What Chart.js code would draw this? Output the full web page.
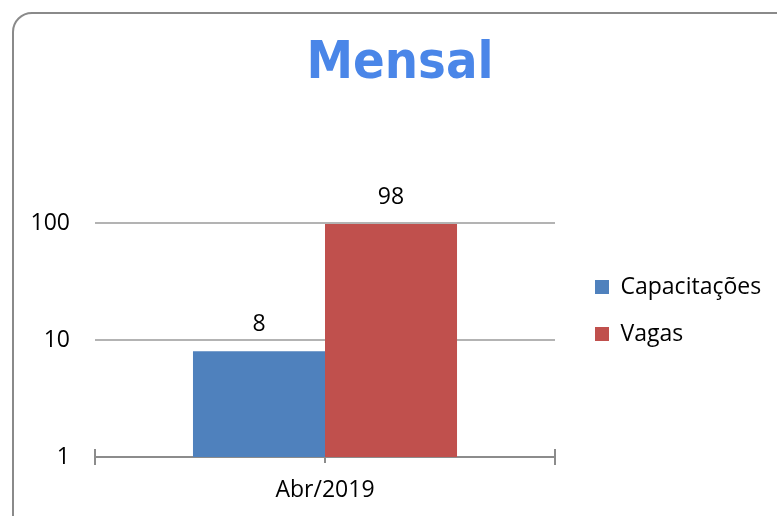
<!DOCTYPE html>
<html>
<head>
<meta charset="utf-8">
<script src="https://cdn.jsdelivr.net/npm/chart.js@4/dist/chart.umd.min.js"></script>
<style>
  html, body { margin: 0; padding: 0; background: #fff; overflow: hidden; }
  #wrap { position: relative; width: 777px; height: 516px; }
  #frame { position: absolute; left: 12px; top: 12px; width: 800px; height: 540px;
           border: 2px solid #8a8a8a; border-radius: 20px; pointer-events: none; box-sizing: border-box; }
  canvas { position: absolute; left: 0; top: 0; }
</style>
</head>
<body>
<div id="wrap">
  <canvas id="c" width="777" height="516"></canvas>
  <div id="frame"></div>
</div>
<script>
const categories = ['Abr/2019'];
const capacitacoes = [8];
const vagas = [98];
const seriesNames = ['Capacitações', 'Vagas'];
const yTickValues = [1, 10, 100];
const yTickLabels = ['1', '10', '100'];
const chartTitle = 'Mensal';

Chart.defaults.font.family = "'Open Sans', sans-serif";
Chart.defaults.color = '#000';

const dataLabels = {
  id: 'dataLabels',
  afterDatasetsDraw(chart) {
    const ctx = chart.ctx;
    ctx.save();
    ctx.font = "23px 'Open Sans', sans-serif";
    ctx.fillStyle = '#000';
    ctx.textAlign = 'center';
    ctx.textBaseline = 'middle';
    chart.data.datasets.forEach((ds, i) => {
      const meta = chart.getDatasetMeta(i);
      meta.data.forEach((el, j) => {
        ctx.fillText(String(ds.data[j]), el.x, el.y - 27);
      });
    });
    ctx.restore();
  }
};

const axisTicks = {
  id: 'axisTicks',
  afterDraw(chart) {
    const ctx = chart.ctx;
    const x = chart.scales.x;
    const y0 = chart.chartArea.bottom;
    ctx.save();
    ctx.strokeStyle = '#8c8c8c';
    ctx.lineWidth = 2;
    ctx.beginPath();
    ctx.moveTo(x.left, y0 - 8); ctx.lineTo(x.left, y0);
    ctx.moveTo(x.right, y0 - 8); ctx.lineTo(x.right, y0);
    const cx = x.getPixelForValue(0);
    ctx.moveTo(cx, y0); ctx.lineTo(cx, y0 + 6);
    ctx.stroke();
    ctx.restore();
  }
};

// widen the clip boxes of the legend and the y axis so their text is not cut
const widenBoxes = {
  id: 'widenBoxes',
  afterLayout(chart) {
    const lg = chart.legend;
    if (lg) { lg.right = chart.width; lg.width = lg.right - lg.left; }
    const y = chart.scales.y;
    y.left = 0; y.width = y.right - y.left;
  }
};

new Chart(document.getElementById('c'), {
  type: 'bar',
  data: {
    labels: categories,
    datasets: [
      { label: seriesNames[0], data: capacitacoes, backgroundColor: '#4f81bd',
        categoryPercentage: 0.574, barPercentage: 1 },
      { label: seriesNames[1], data: vagas, backgroundColor: '#c0504d',
        categoryPercentage: 0.574, barPercentage: 1 }
    ]
  },
  options: {
    responsive: false,
    animation: false,
    layout: { padding: { left: 90, right: 67, top: 0, bottom: 0 } },
    plugins: {
      title: {
        display: true,
        text: chartTitle,
        color: '#4a86e8',
        font: { family: "'DejaVu Sans Condensed', 'DejaVu Sans', sans-serif", size: 52, weight: 'bold' },
        padding: { top: 33, bottom: 127.6 }
      },
      legend: {
        position: 'right',
        align: 'start',
        fullSize: false,
        title: { display: true, text: ' ', font: { size: 10, lineHeight: 1.2 }, padding: { top: 0.5, bottom: 0 } },
        labels: {
          boxWidth: 14, boxHeight: 14, padding: 40,
          font: { size: 23, lineHeight: 7 / 23 }, color: '#000',
          generateLabels(chart) {
            return chart.data.datasets.map((ds, i) => ({
              text: [ds.label],
              fillStyle: ds.backgroundColor,
              strokeStyle: ds.backgroundColor,
              lineWidth: 0,
              hidden: false,
              datasetIndex: i,
              fontColor: '#000'
            }));
          }
        }
      },
      tooltip: { enabled: false }
    },
    scales: {
      x: {
        type: 'category',
        offset: true,
        grid: { display: true, drawOnChartArea: false, drawTicks: true, tickLength: 8,
                color: '#8c8c8c', lineWidth: 2, offset: true },
        border: { display: true, color: '#8c8c8c', width: 2 },
        ticks: { font: { size: 23 }, color: '#000', padding: 12 },
        afterFit(s) { s.height = 59; }
      },
      y: {
        type: 'logarithmic',
        position: 'left',
        min: 1,
        max: 100,
        afterBuildTicks(s) { s.ticks = yTickValues.map(v => ({ value: v })); },
        ticks: {
          font: { size: 23 }, color: '#000', padding: 25,
          callback(v) { const k = yTickValues.indexOf(v); return k >= 0 ? yTickLabels[k] : ''; }
        },
        grid: { color: '#b3b3b3', lineWidth: 2, drawTicks: false },
        border: { display: false },
        afterFit(s) { s.width = 5; }
      }
    }
  },
  plugins: [dataLabels, axisTicks, widenBoxes]
});
</script>
</body>
</html>
